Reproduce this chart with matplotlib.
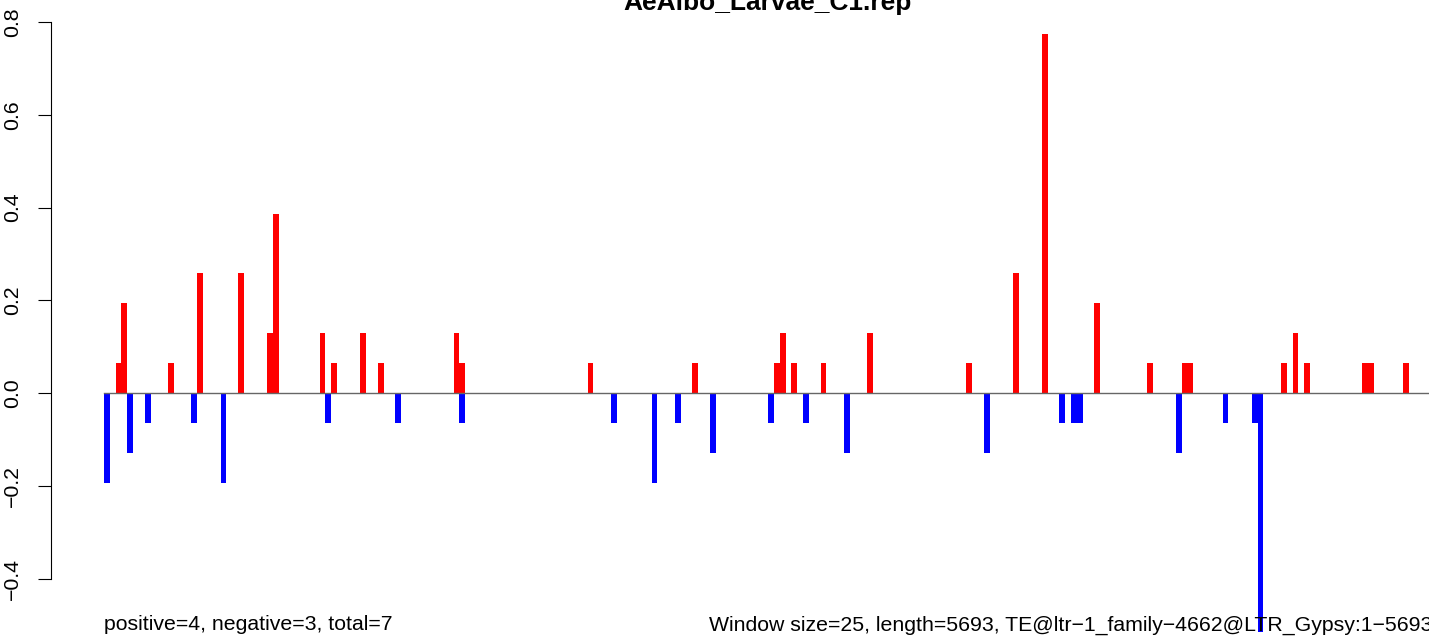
import matplotlib
matplotlib.use("Agg")
import matplotlib.pyplot as plt

plt.rcParams['font.family'] = ['Liberation Sans', 'DejaVu Sans']

# ---------------- data ----------------
title = "AeAlbo_Larvae_C1.rep"
n_windows = 228  # ceil(5693 / 25)

pos_windows = [2, 3, 11, 16, 23, 28, 29, 37, 39, 44, 47, 60, 61, 83, 101, 115, 116,
               118, 123, 131, 148, 156, 161, 170, 179, 185, 186, 202, 204, 206, 216,
               217, 223]
pos_values = [0.065, 0.194, 0.065, 0.258, 0.258, 0.129, 0.387, 0.129, 0.065, 0.129,
              0.065, 0.129, 0.065, 0.065, 0.065, 0.065, 0.129, 0.065, 0.065, 0.129,
              0.065, 0.258, 0.774, 0.194, 0.065, 0.065, 0.065, 0.065, 0.129, 0.065,
              0.065, 0.065, 0.065]

neg_windows = [0, 4, 7, 15, 20, 38, 50, 61, 87, 94, 98, 104, 114, 120, 127, 151, 164,
               166, 167, 184, 192, 197, 198]
neg_values = [-0.194, -0.129, -0.065, -0.065, -0.194, -0.065, -0.065, -0.065, -0.065,
              -0.194, -0.065, -0.129, -0.065, -0.065, -0.129, -0.129, -0.065, -0.065,
              -0.065, -0.129, -0.065, -0.065, -0.516]

yticks = [-0.4, -0.2, 0.0, 0.2, 0.4, 0.6, 0.8]
ytick_labels = ["\u22120.4", "\u22120.2", "0.0", "0.2", "0.4", "0.6", "0.8"]

left_note = "positive=4, negative=3, total=7"
right_note = "Window size=25, length=5693, TE@ltr\u22121_family\u22124662@LTR_Gypsy:1\u22125693"

# ---------------- layout ----------------
W, H = 1429, 639
fig = plt.figure(figsize=(W / 100, H / 100), dpi=100)

x0_px, px_per_x = 104.0, 5.826      # pixel of window 0 left edge, px per window
y0_px, px_per_y = 393.0, 463.75     # pixel of value 0, px per unit
xlim = (-0.04 * n_windows, 1.04 * n_windows)
ylim = (-0.568, 0.847)

left_px = x0_px + px_per_x * xlim[0]
right_px = x0_px + px_per_x * xlim[1]
top_px = y0_px - px_per_y * ylim[1]
bot_px = y0_px - px_per_y * ylim[0]

ax = fig.add_axes([left_px / W, (H - bot_px) / H,
                   (right_px - left_px) / W, (bot_px - top_px) / H])
ax.set_xlim(*xlim)
ax.set_ylim(*ylim)
ax.patch.set_alpha(0)

ax.bar(pos_windows, pos_values, width=1.0, align='edge', color='#FF0000',
       linewidth=0, zorder=2)
ax.bar(neg_windows, neg_values, width=1.0, align='edge', color='#0000FF',
       linewidth=0, zorder=2)
ax.plot([0, n_windows], [0, 0], color='#666666', linewidth=1.0, zorder=3)

for s in ['top', 'right', 'bottom']:
    ax.spines[s].set_visible(False)
ax.spines['left'].set_bounds(yticks[0], yticks[-1])
ax.spines['left'].set_linewidth(0.8)
ax.set_xticks([])
ax.set_yticks(yticks)
ax.set_yticklabels(ytick_labels, rotation=90, va='center', ha='right',
                   fontsize=15.3)
ax.tick_params(axis='y', length=9.4, width=0.8, pad=11.5, direction='out')

note_y = (y0_px - 625) / px_per_y
ax.text(0, note_y, left_note, ha='left', va='center', fontsize=15.3,
        zorder=5, clip_on=False)
ax.text(n_windows, note_y, right_note, ha='right', va='center', fontsize=15.3,
        zorder=5, clip_on=False)

fig.text(767.5 / W, 1 - 10 / H, title, ha='center', va='baseline',
         fontsize=19, fontweight='bold')

fig.savefig('out.png', dpi=100)
